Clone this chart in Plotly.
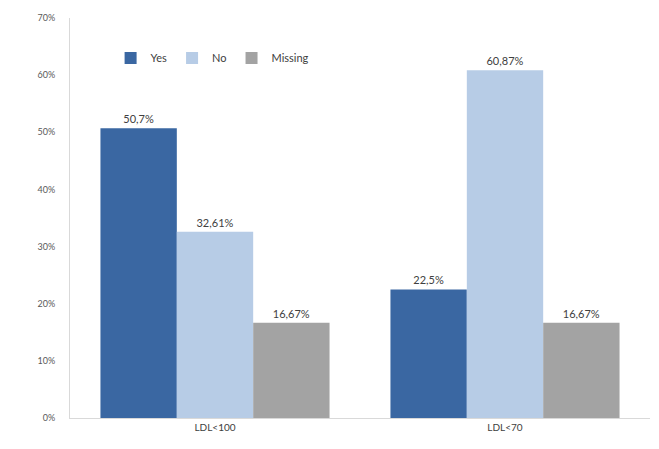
import plotly.graph_objects as go

categories = ["LDL<100", "LDL<70"]
yes_vals = [50.7, 22.5]
no_vals = [32.61, 60.87]
missing_vals = [16.67, 16.67]
yes_text = ["50,7%", "22,5%"]
no_text = ["32,61%", "60,87%"]
missing_text = ["16,67%", "16,67%"]
y_ticks = [0, 10, 20, 30, 40, 50, 60, 70]
y_ticklabels = ["0%", "10%", "20%", "30%", "40%", "50%", "60%", "70%"]

font_family = "Lato, Open Sans, sans-serif"
txt_color = "#404040"

fig = go.Figure()
for name, vals, txt, color in [
    ("Yes", yes_vals, yes_text, "#3A67A2"),
    ("No", no_vals, no_text, "#B7CCE6"),
    ("Missing", missing_vals, missing_text, "#A3A3A3"),
]:
    fig.add_trace(go.Bar(
        name=name, x=categories, y=vals, text=txt,
        textposition="outside", cliponaxis=False,
        textfont=dict(size=11, color=txt_color, family=font_family),
        marker=dict(color=color, line=dict(width=0)),
    ))

fig.update_layout(
    width=659, height=449,
    margin=dict(l=70, r=9, t=18, b=31),
    paper_bgcolor="white", plot_bgcolor="white",
    barmode="group", bargap=0.21, bargroupgap=0,
    font=dict(family=font_family, size=10, color=txt_color),
    showlegend=True,
    legend=dict(
        orientation="h", x=0.07, y=0.9, xanchor="left", yanchor="middle",
        font=dict(size=11, color=txt_color, family=font_family),
        bgcolor="rgba(0,0,0,0)", itemwidth=30, entrywidth=0,
        traceorder="normal",
    ),
    xaxis=dict(
        showline=True, linecolor="#D9D9D9", linewidth=1,
        ticks="", showgrid=False, tickfont=dict(size=10, color=txt_color),
    ),
    yaxis=dict(
        range=[0, 70], tickvals=y_ticks, ticktext=y_ticklabels,
        showline=True, linecolor="#D9D9D9", linewidth=1,
        showgrid=False, zeroline=False, ticks="",
        tickfont=dict(size=9, color="#595959"), ticklabelstandoff=12,
    ),
)

fig.write_html("out.html")
